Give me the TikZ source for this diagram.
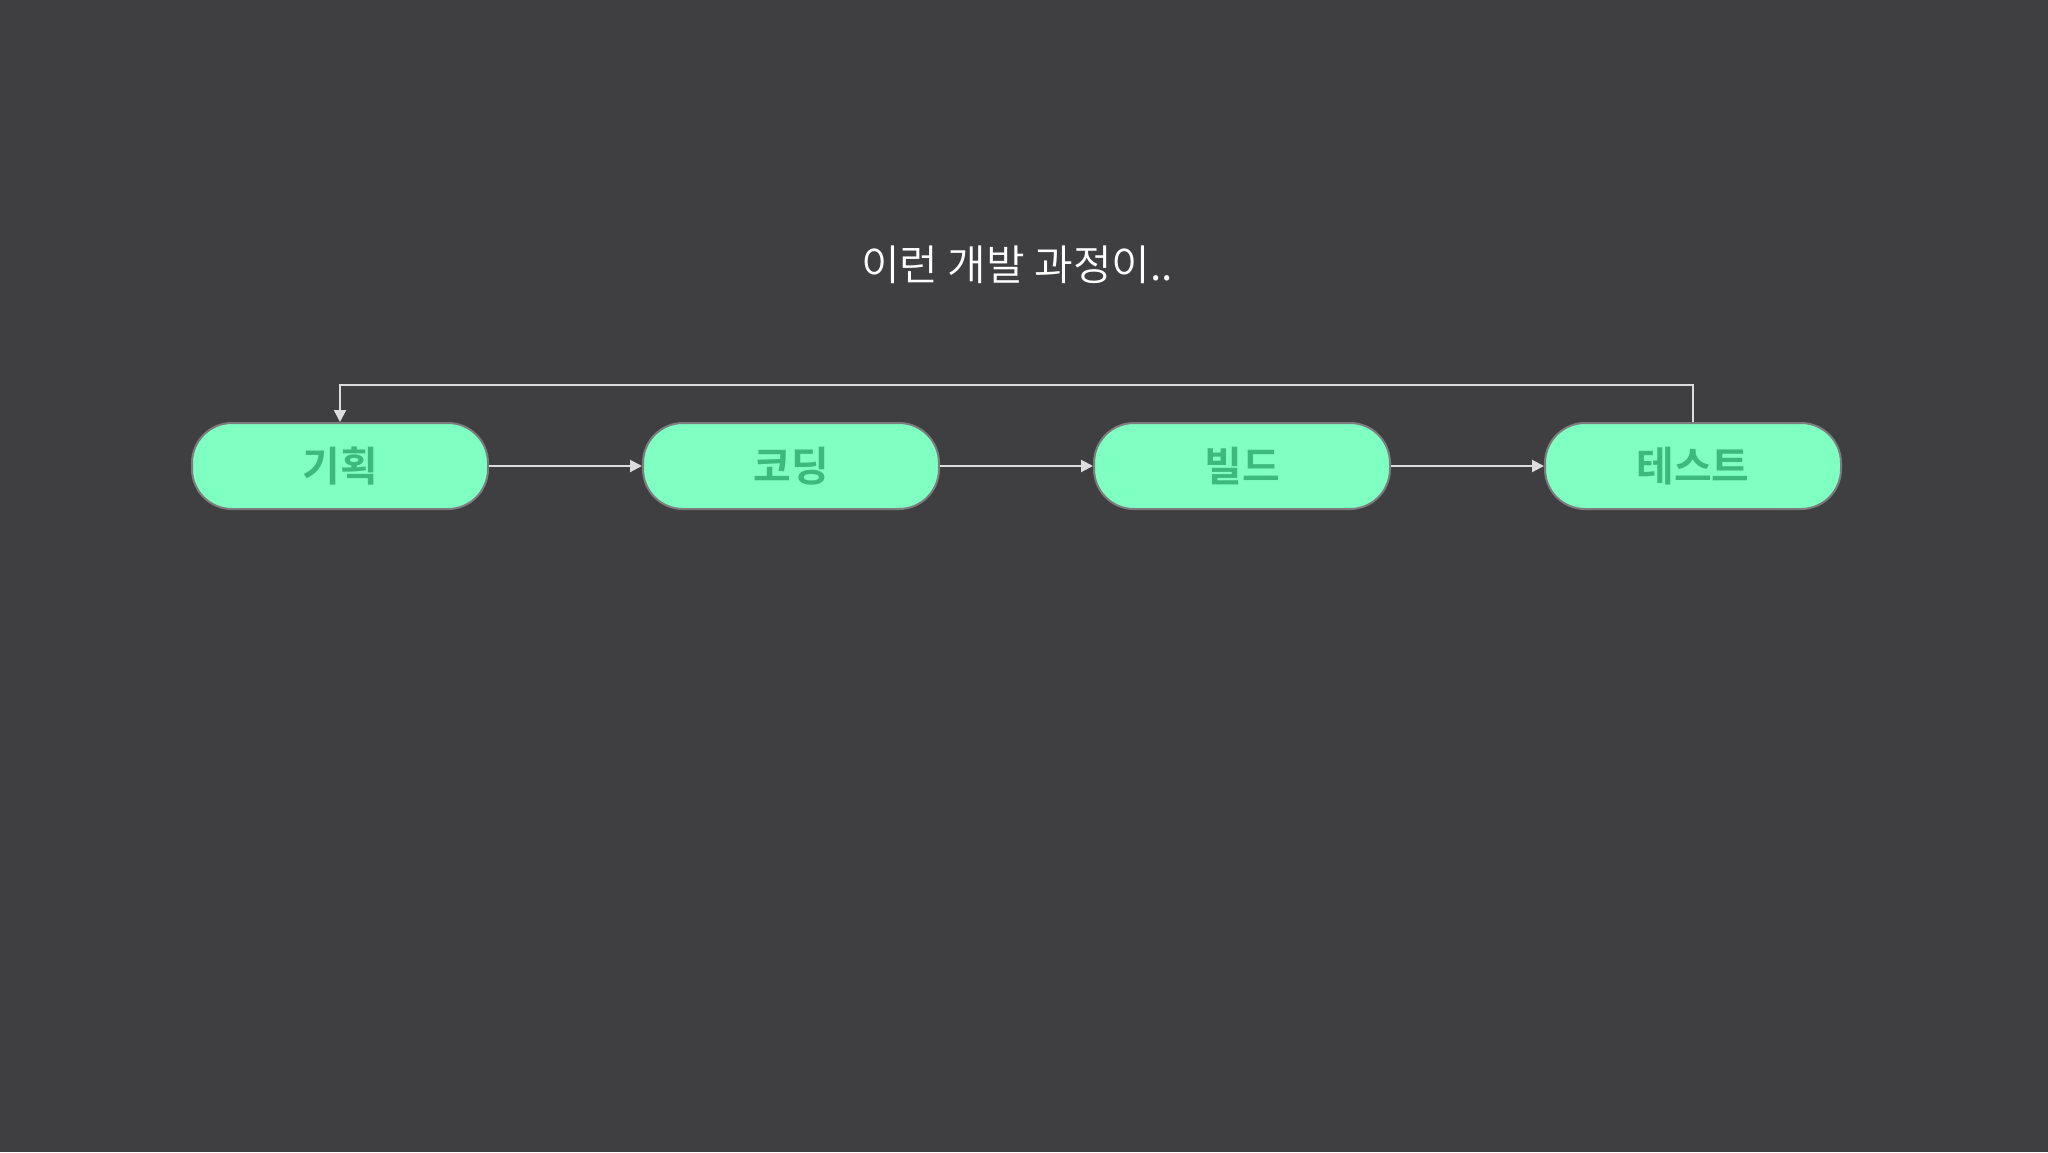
\documentclass[tikz,border=0pt]{standalone}
\usepackage{fontspec}
\newfontfamily\kr{Noto Sans CJK KR}[BoldFont={Noto Sans CJK KR Bold}]
\newfontfamily\krlight{Noto Sans CJK KR DemiLight}
\usepackage{xcolor}
\usetikzlibrary{positioning}
\usetikzlibrary{arrows.meta}

\definecolor{bgdark}{HTML}{3F3E40}
\definecolor{boxfill}{HTML}{80FFC2}
\definecolor{boxtext}{HTML}{3CB97C}
\definecolor{boxline}{HTML}{7C7C7C}
\definecolor{flowline}{HTML}{DCDCDC}

\tikzset{
  stepbox/.style={draw=boxline, line width=1pt, fill=boxfill, rounded corners=20pt,
    minimum width=148pt, minimum height=43pt, inner sep=0pt,
    font=\kr\bfseries\fontsize{20.5}{20.5}\selectfont, text=boxtext},
  flow/.style={draw=flowline, line width=1pt, -{Triangle[length=6pt,width=6pt]}},
}

\begin{document}
\begin{tikzpicture}[x=0.5pt,y=0.5pt,node distance=76.5pt]
\fill [bgdark] (0,0) rectangle (2048,-1152);
\node [text=white, font=\krlight\fontsize{21}{21}\selectfont] (title) at (1017,-265) {이런 개발 과정이..};
\node [stepbox] (plan) at (340,-466) {기획};
\node [stepbox, right=of plan] (code) {코딩};
\node [stepbox, right=of code] (build) {빌드};
\node [stepbox, right=of build] (test) {테스트};
\draw [flow] (plan) -- (code);
\draw [flow] (code) -- (build);
\draw [flow] (build) -- (test);
\draw [flow] (test.north) -- ++(0,37) -| (plan.north);
\end{tikzpicture}
\end{document}
